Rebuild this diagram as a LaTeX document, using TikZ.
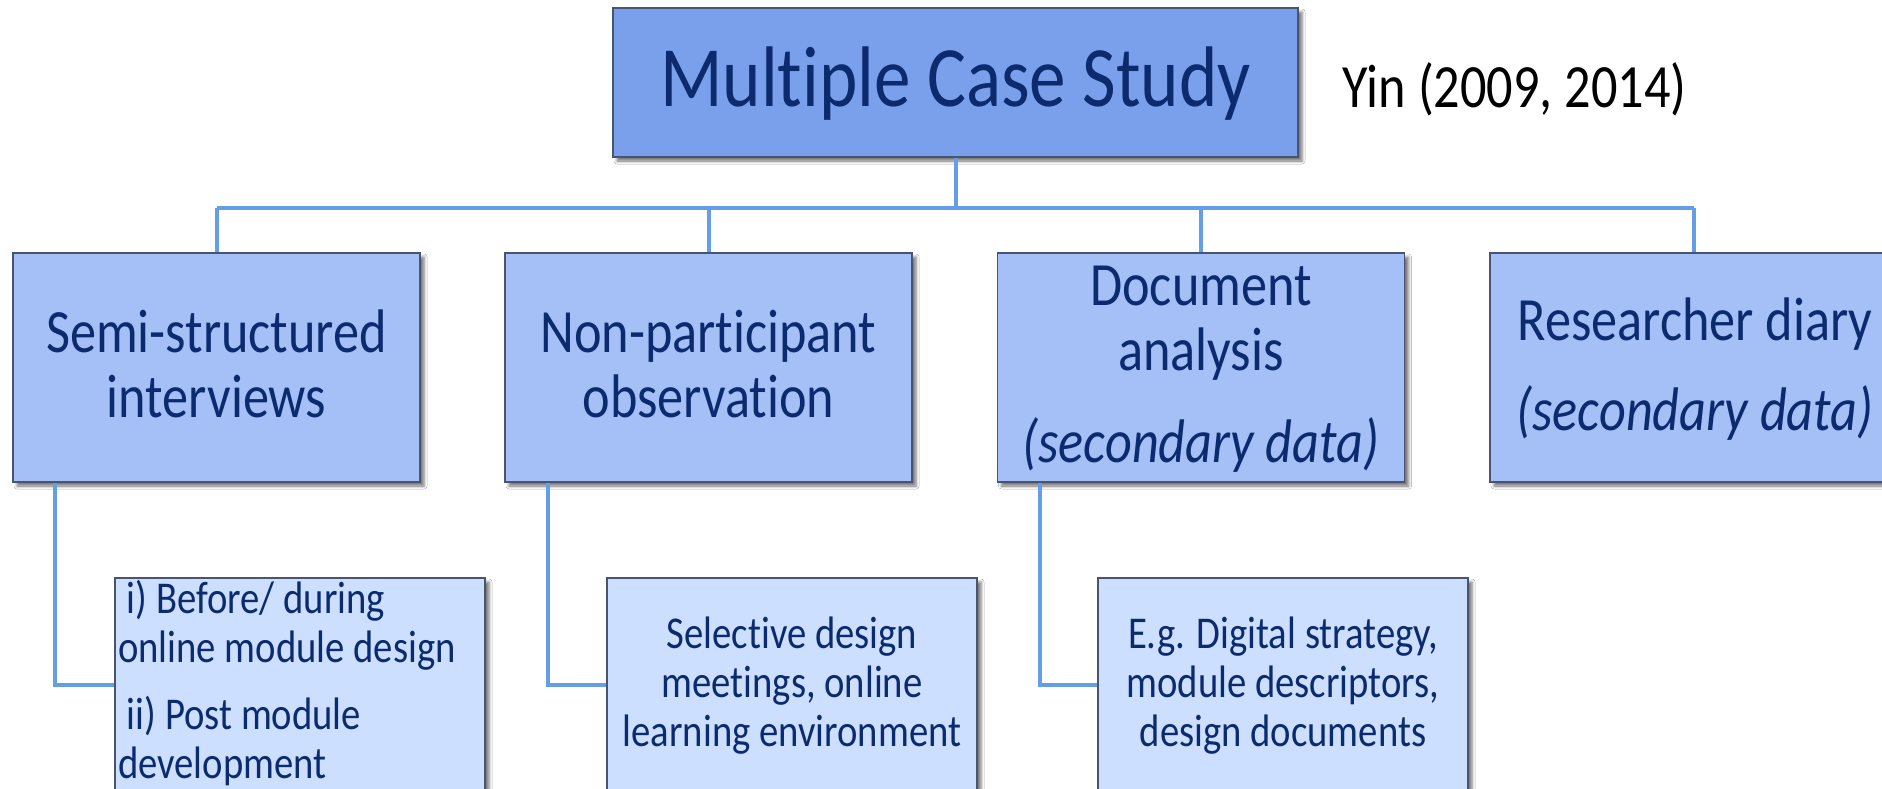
\documentclass[tikz,border=0pt]{standalone}
\usepackage{fontspec}
\setmainfont{Carlito}[FakeStretch=0.85, Ligatures=NoCommon]
\usetikzlibrary{shadows.blur}

\definecolor{navy}{RGB}{12,42,110}
\definecolor{linkblue}{RGB}{100,158,230}
\definecolor{fillA}{RGB}{122,160,236}
\definecolor{fillB}{RGB}{164,192,246}
\definecolor{fillC}{RGB}{204,223,254}
\definecolor{edge}{RGB}{72,84,112}

\begin{document}
\begin{tikzpicture}[x=1pt,y=-1pt,
  box/.style={draw=edge, line width=1.3pt, rectangle, inner sep=0pt,
    blur shadow={shadow xshift=4pt, shadow yshift=-4pt,
      shadow blur radius=3pt, shadow opacity=55}},
  headbox/.style={box, fill=fillA, minimum width=685pt, minimum height=149pt},
  midbox/.style={box, fill=fillB, minimum width=407pt, minimum height=229pt},
  lowbox/.style={box, fill=fillC, minimum width=370pt, minimum height=232pt},
  headtxt/.style={inner sep=0pt, text=navy, font=\fontsize{86}{90}\selectfont},
  midtxt/.style={inner sep=0pt, text=navy, align=center, font=\fontsize{61.5}{65}\selectfont},
  lowtxt/.style={inner sep=0pt, text=navy, font=\fontsize{45.5}{49}\selectfont},
  conn/.style={draw=linkblue, line width=4pt}
]
\clip (0,0) rectangle (1882,789);
\fill[white] (0,0) rectangle (1882,789);

% boxes
\node[headbox] (case) at (955.5,82.5) {};
\node[midbox] (semi) at (216.5,367.5) {};
\node[midbox] (obs)  at (708.5,367.5) {};
\node[midbox] (doc)  at (1201,367.5) {};
\node[midbox] (diary) at (1693.5,367.5) {};
\node[lowbox] (phases) at (300,694) {};
\node[lowbox] (meet)   at (792,694) {};
\node[lowbox] (docs)   at (1283,694) {};

% texts (multi-line nodes are placed by the baseline of their last line)
\node[headtxt, anchor=base] (case-t) at (955.5,107) {Multiple Case Study};
\node[inner sep=0pt, anchor=base west, font=\fontsize{61.5}{65}\selectfont] (yin) at (1342,108) {Yin (2009, 2014)};

\node[midtxt, anchor=base] (semi-t) at (216.5,417) {Semi-structured\\interviews};
\node[midtxt, anchor=base] (obs-t) at (708.5,417) {Non-participant\\observation};
\node[midtxt, anchor=base] (doc-t) at (1201,462) {Document\\analysis\\[27pt]\textit{(secondary data)}};
\node[midtxt, anchor=base] (diary-t) at (1695,430) {Researcher diary\\[25pt]\textit{(secondary data)}};

\node[lowtxt, align=left, anchor=base west] (phases-t) at (118,778)
  {\ i) Before/ during\\online module design\\[18pt]\ ii) Post module\\development};
\node[lowtxt, align=center, anchor=base] (meet-t) at (792,746)
  {Selective design\\meetings, online\\learning environment};
\node[lowtxt, align=center, anchor=base] (docs-t) at (1283,746)
  {E.g. Digital strategy,\\module descriptors,\\design documents};

% connectors
\coordinate (bus) at (0,208);
\draw[conn] (case.south) -- (case.south |- bus);
\draw[conn] (semi.north |- bus) -- (diary.north |- bus);
\draw[conn] (semi.north |- bus) -- (semi.north);
\draw[conn] (obs.north |- bus) -- (obs.north);
\draw[conn] (doc.north |- bus) -- (doc.north);
\draw[conn] (diary.north |- bus) -- (diary.north);

\coordinate (elbow) at (0,685);
\coordinate (semi-drop) at (55,0);
\coordinate (obs-drop) at (548,0);
\coordinate (doc-drop) at (1040,0);
\draw[conn] (semi.south -| semi-drop) |- (phases.west |- elbow);
\draw[conn] (obs.south -| obs-drop) |- (meet.west |- elbow);
\draw[conn] (doc.south -| doc-drop) |- (docs.west |- elbow);
\end{tikzpicture}
\end{document}
